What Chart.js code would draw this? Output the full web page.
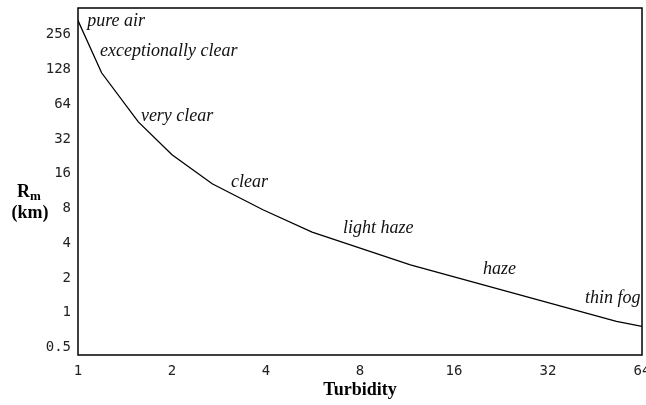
<!DOCTYPE html>
<html>
<head>
<meta charset="utf-8">
<script src="https://cdn.jsdelivr.net/npm/chart.js@4"></script>
<style>
  html, body { margin: 0; padding: 0; background: #fff; }
  #wrap { width: 646px; height: 405px; }
</style>
</head>
<body>
<div id="wrap"><canvas id="turbidity"></canvas></div>
<script>
// curve
const turbidity = [1, 1.19, 1.56, 2, 2.69, 3.91, 5.62, 11.6, 53, 64];
const rangeKm   = [340, 120, 45, 23.4, 13.1, 7.8, 5.0, 2.6, 0.84, 0.76];

const xTicks = [1, 2, 4, 8, 16, 32, 64];
const yTicks = [0.5, 1, 2, 4, 8, 16, 32, 64, 128, 256];

// text labels along the curve (left edge, vertical middle, in data units)
const labelText = ['pure air', 'exceptionally clear', 'very clear', 'clear', 'light haze', 'haze', 'thin fog'];
const labelT    = [1.07, 1.176, 1.59, 3.09, 7.06, 19.8, 42];
const labelR    = [337, 185, 50.8, 13.6, 5.35, 2.36, 1.33];

const ctx = document.getElementById('turbidity').getContext('2d');

const extras = {
  id: 'extras',
  afterDraw(chart) {
    const c = chart.ctx;
    const a = chart.chartArea;
    const x = chart.scales.x;
    const y = chart.scales.y;
    c.save();
    // frame round the plot
    c.strokeStyle = '#000';
    c.lineWidth = 1.5;
    c.strokeRect(a.left, a.top, a.right - a.left, a.bottom - a.top);

    // labels on the curve
    c.fillStyle = '#111';
    c.font = 'italic 18px "Liberation Serif"';
    c.textBaseline = 'middle';
    c.textAlign = 'left';
    labelText.forEach((t, i) => {
      c.fillText(t, x.getPixelForValue(labelT[i]), y.getPixelForValue(labelR[i]));
    });

    // axis titles
    c.fillStyle = '#000';
    c.font = 'bold 18px "Liberation Serif"';
    c.textAlign = 'center';
    c.fillText('Turbidity', (a.left + a.right) / 2, 390);

    c.textAlign = 'left';
    c.fillText('R', 17, 192);
    c.font = 'bold 13px "Liberation Serif"';
    c.fillText('m', 30, 197);
    c.font = 'bold 18px "Liberation Serif"';
    c.textAlign = 'center';
    c.fillText('(km)', 30, 213);
    c.restore();
  }
};

const noEdgePadding = (s) => {
  s.paddingTop = 0;
  s.paddingBottom = 0;
  s.paddingLeft = 0;
  s.paddingRight = 0;
};

new Chart(ctx, {
  type: 'line',
  data: {
    datasets: [
      {
        data: turbidity.map((t, i) => ({ x: t, y: rangeKm[i] })),
        borderColor: '#000',
        borderWidth: 1.3,
        pointRadius: 0,
        tension: 0,
        fill: false
      }
    ]
  },
  options: {
    responsive: true,
    maintainAspectRatio: false,
    animation: false,
    layout: {
      padding: { top: 8, right: 4, bottom: 0, left: 0 }
    },
    plugins: {
      legend: { display: false },
      tooltip: { enabled: false }
    },
    scales: {
      x: {
        type: 'logarithmic',
        min: 1,
        max: 64,
        grid: { display: false, drawTicks: false },
        border: { display: false },
        afterBuildTicks: (s) => { s.ticks = xTicks.map(v => ({ value: v })); },
        afterFit: (s) => { s.height = 50; noEdgePadding(s); },
        ticks: {
          autoSkip: false,
          maxRotation: 0,
          padding: 8,
          color: '#222',
          font: { family: 'DejaVu Sans Mono', size: 14 },
          callback: (v) => String(v)
        }
      },
      y: {
        type: 'logarithmic',
        min: 0.43,
        max: 437,
        grid: { display: false, drawTicks: false },
        border: { display: false },
        afterBuildTicks: (s) => { s.ticks = yTicks.map(v => ({ value: v })); },
        afterFit: (s) => { s.width = 78; noEdgePadding(s); },
        ticks: {
          autoSkip: false,
          padding: 7,
          color: '#222',
          font: { family: 'DejaVu Sans Mono', size: 14 },
          callback: (v) => String(v)
        }
      }
    }
  },
  plugins: [extras]
});
</script>
</body>
</html>
